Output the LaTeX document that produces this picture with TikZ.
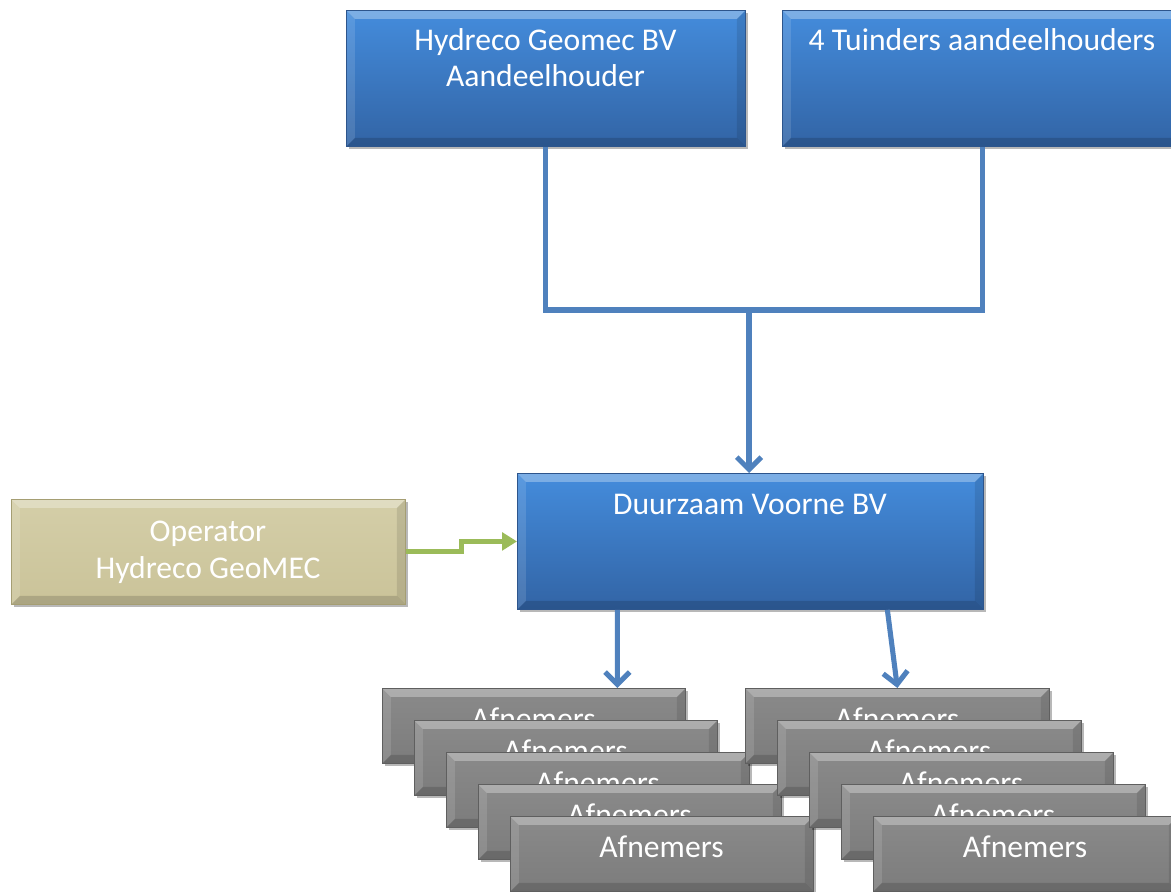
\documentclass[tikz,border=0pt]{standalone}
\usepackage{fontspec}
\setmainfont{Carlito}
\usetikzlibrary{arrows.meta,shadows,calc}
\definecolor{bluetop}{RGB}{68,140,220}
\definecolor{bluebot}{RGB}{50,100,165}
\definecolor{blueborder}{RGB}{45,85,140}
\definecolor{blueline}{RGB}{79,129,189}
\definecolor{greenline}{RGB}{155,187,89}
\definecolor{graytop}{RGB}{138,138,138}
\definecolor{graybot}{RGB}{124,124,124}
\definecolor{grayborder}{RGB}{95,95,95}
\definecolor{tantop}{RGB}{212,206,168}
\definecolor{tanbot}{RGB}{202,195,153}
\definecolor{tanborder}{RGB}{165,158,115}
\tikzset{
  bevel/.style={path picture={
    \fill[white,opacity=.30] (path picture bounding box.north west) -- (path picture bounding box.north east)
      -- ([shift={(-0.17cm,-0.17cm)}]path picture bounding box.north east)
      -- ([shift={(0.17cm,-0.17cm)}]path picture bounding box.north west) -- cycle;
    \fill[white,opacity=.12] (path picture bounding box.north west) -- (path picture bounding box.south west)
      -- ([shift={(0.17cm,0.17cm)}]path picture bounding box.south west)
      -- ([shift={(0.17cm,-0.17cm)}]path picture bounding box.north west) -- cycle;
    \fill[black,opacity=.10] (path picture bounding box.north east) -- (path picture bounding box.south east)
      -- ([shift={(-0.17cm,0.17cm)}]path picture bounding box.south east)
      -- ([shift={(-0.17cm,-0.17cm)}]path picture bounding box.north east) -- cycle;
    \fill[black,opacity=.15] (path picture bounding box.south west) -- (path picture bounding box.south east)
      -- ([shift={(-0.17cm,0.17cm)}]path picture bounding box.south east)
      -- ([shift={(0.17cm,0.17cm)}]path picture bounding box.south west) -- cycle;
  }},
  box/.style={rectangle, inner sep=0pt, anchor=north west, line width=0.5pt,
    drop shadow={shadow xshift=0.06cm, shadow yshift=-0.06cm, opacity=0.28, fill=black}},
  bluebox/.style={box, top color=bluetop, bottom color=bluebot, draw=blueborder, bevel},
  graybox/.style={box, top color=graytop, bottom color=graybot, draw=grayborder, bevel},
  tanbox/.style={box, top color=tantop, bottom color=tanbot, draw=tanborder, bevel},
  lbl/.style={anchor=base, text=white, inner sep=0pt, font=\fontsize{18}{20.4}\selectfont},
  blueconn/.style={draw=blueline, line width=2.9pt},
  bluearrow/.style={blueconn, -{Straight Barb[length=7pt,width=14pt,line width=2.9pt]}},
  greenarrow/.style={draw=greenline, line width=2.8pt, -{Triangle[length=8.5pt,width=10pt]}},
}
\begin{document}
\begin{tikzpicture}[x=0.02cm,y=-0.02cm]
\useasboundingbox (0,0) rectangle (1171,892);
\clip (0,0) rectangle (1171,892);
% top boxes
\node[bluebox, minimum width=7.98cm, minimum height=2.72cm] (hyd) at (346,10) {};
\node[lbl] (hydt1) at (545.5,51) {Hydreco Geomec BV};
\node[lbl] (hydt2) at (545.5,87) {Aandeelhouder};
\node[bluebox, minimum width=8cm, minimum height=2.72cm] (tui) at (782,10) {};
\node[lbl] (tuit) at (982,51) {4 Tuinders aandeelhouders};
% middle
\node[bluebox, minimum width=9.32cm, minimum height=2.72cm] (duu) at (517,473) {};
\node[lbl] (duut) at (750,514) {Duurzaam Voorne BV};
\node[tanbox, minimum width=7.88cm, minimum height=2.1cm] (oper) at (11,499) {};
\node[lbl] (opert1) at (208,541) {Operator};
\node[lbl] (opert2) at (208,578) {Hydreco GeoMEC};
% stacks
\foreach \i in {0,...,4}{
  \node[graybox, minimum width=6.06cm, minimum height=1.5cm] (afL\i) at (382+32*\i,688+32*\i) {};
  \node[lbl] (afLt\i) at (533.5+32*\i,729+32*\i) {Afnemers};
}
\foreach \i in {0,...,4}{
  \node[graybox, minimum width=6.08cm, minimum height=1.5cm] (afR\i) at (745+32*\i,688+32*\i) {};
  \node[lbl] (afRt\i) at (897+32*\i,729+32*\i) {Afnemers};
}
% connectors
\coordinate (j) at (749,310);
\draw[blueconn] (hyd.south) |- (j) -| (tui.south);
\draw[bluearrow] (j) -- (j |- duu.north);
\draw[greenarrow] (oper.east) -- ++(56,0) |- (duu.west);
\draw[bluearrow] ([xshift=-2.66cm]duu.south) -- ([xshift=1.67cm]afL0.north);
\draw[bluearrow] ([xshift=2.74cm]duu.south) -- (afR0.north);
\end{tikzpicture}
\end{document}
